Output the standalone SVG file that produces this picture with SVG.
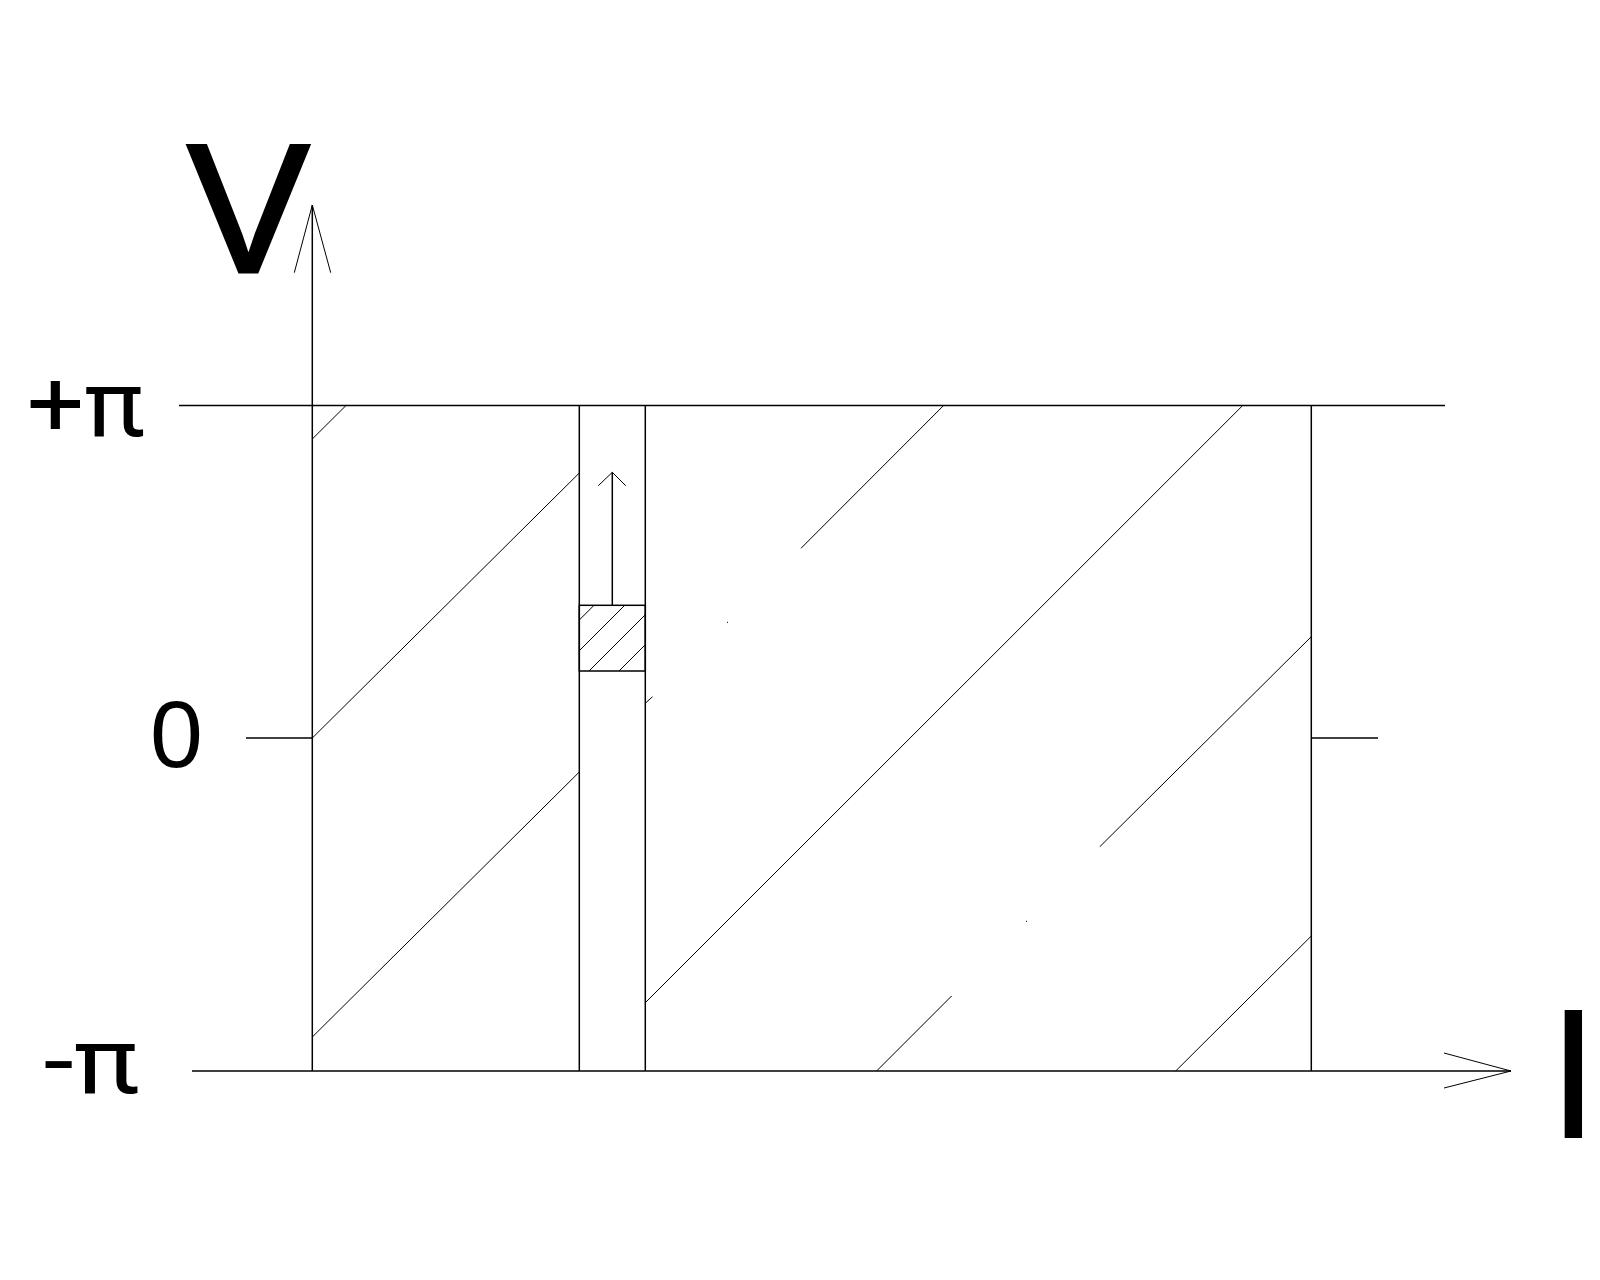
<svg xmlns="http://www.w3.org/2000/svg" width="1600" height="1280" viewBox="0 0 1600 1280">
<style>
.m{stroke:#000;stroke-width:1.5;fill:none}
.d{stroke:#000;stroke-width:1;fill:none}
.t{font-family:"Liberation Sans",Arial,sans-serif;fill:#000}
.p{font-family:Roboto,"Liberation Sans",sans-serif;fill:#000}
</style>
<rect width="1600" height="1280" fill="#fff"/>
<g id="axes">
<line class="m" x1="312.3" y1="1071" x2="312.3" y2="205"/>
<polyline class="d" points="294.3,272.7 312.3,205 330.7,272.7"/>
<line class="m" x1="192" y1="1071" x2="1511" y2="1071"/>
<polyline class="d" points="1444,1053 1511,1071 1444,1088"/>
<line class="m" x1="179" y1="405.5" x2="1445" y2="405.5"/>
<line class="m" x1="246" y1="738" x2="312.3" y2="738"/>
<line class="m" x1="1311.3" y1="738" x2="1378" y2="738"/>
</g>
<g id="columns">
<line class="m" x1="579.3" y1="405.5" x2="579.3" y2="1071"/>
<line class="m" x1="645.3" y1="405.5" x2="645.3" y2="1071"/>
<line class="m" x1="1311.3" y1="405.5" x2="1311.3" y2="1071"/>
</g>
<g id="box">
<rect class="m" x="579.3" y="605.3" width="66" height="65.7"/>
<line class="d" x1="579.3" y1="620" x2="594" y2="605.3"/>
<line class="d" x1="579.3" y1="650.7" x2="624.7" y2="605.3"/>
<line class="d" x1="589" y1="671" x2="645.3" y2="614.7"/>
<line class="d" x1="619" y1="671" x2="645.3" y2="644.7"/>
<line class="m" x1="612.3" y1="605.3" x2="612.3" y2="472.3"/>
<polyline class="d" points="598.3,485.7 612.3,472.3 625.7,485.7"/>
</g>
<g id="diagonals">
<line class="d" x1="312.3" y1="439" x2="346" y2="405.5"/>
<line class="d" x1="312.3" y1="738" x2="579.3" y2="473"/>
<line class="d" x1="312.3" y1="1037" x2="579.3" y2="772"/>
<line class="d" x1="943.6" y1="405.5" x2="801" y2="548.3"/>
<line class="d" x1="1242.7" y1="405.5" x2="645.3" y2="1002.7"/>
<line class="d" x1="1311.3" y1="636.7" x2="1099.8" y2="846.7"/>
<line class="d" x1="1311.3" y1="936" x2="1175.7" y2="1071"/>
<line class="d" x1="951.6" y1="996" x2="876.6" y2="1071"/>
<line class="d" x1="645.3" y1="703.3" x2="652.5" y2="696.7"/>
<rect x="727" y="621.8" width="1" height="1" fill="#000"/>
<rect x="1026" y="920.8" width="1" height="1" fill="#000"/>
</g>
<g id="labels">
<text class="t" x="187" y="272" font-size="184" stroke="#000" stroke-width="3">V</text>
<text class="t" x="1547.5" y="1138" font-size="186">I</text>
<text class="p" transform="translate(31,436) scale(1.09,1)" x="-4" y="0" font-size="93">+π</text>
<text class="t" x="150" y="767" font-size="95">0</text>
<text class="p" transform="translate(47,1093) scale(1.18,1)" x="-3" y="0" font-size="93">-π</text>
</g>
</svg>
